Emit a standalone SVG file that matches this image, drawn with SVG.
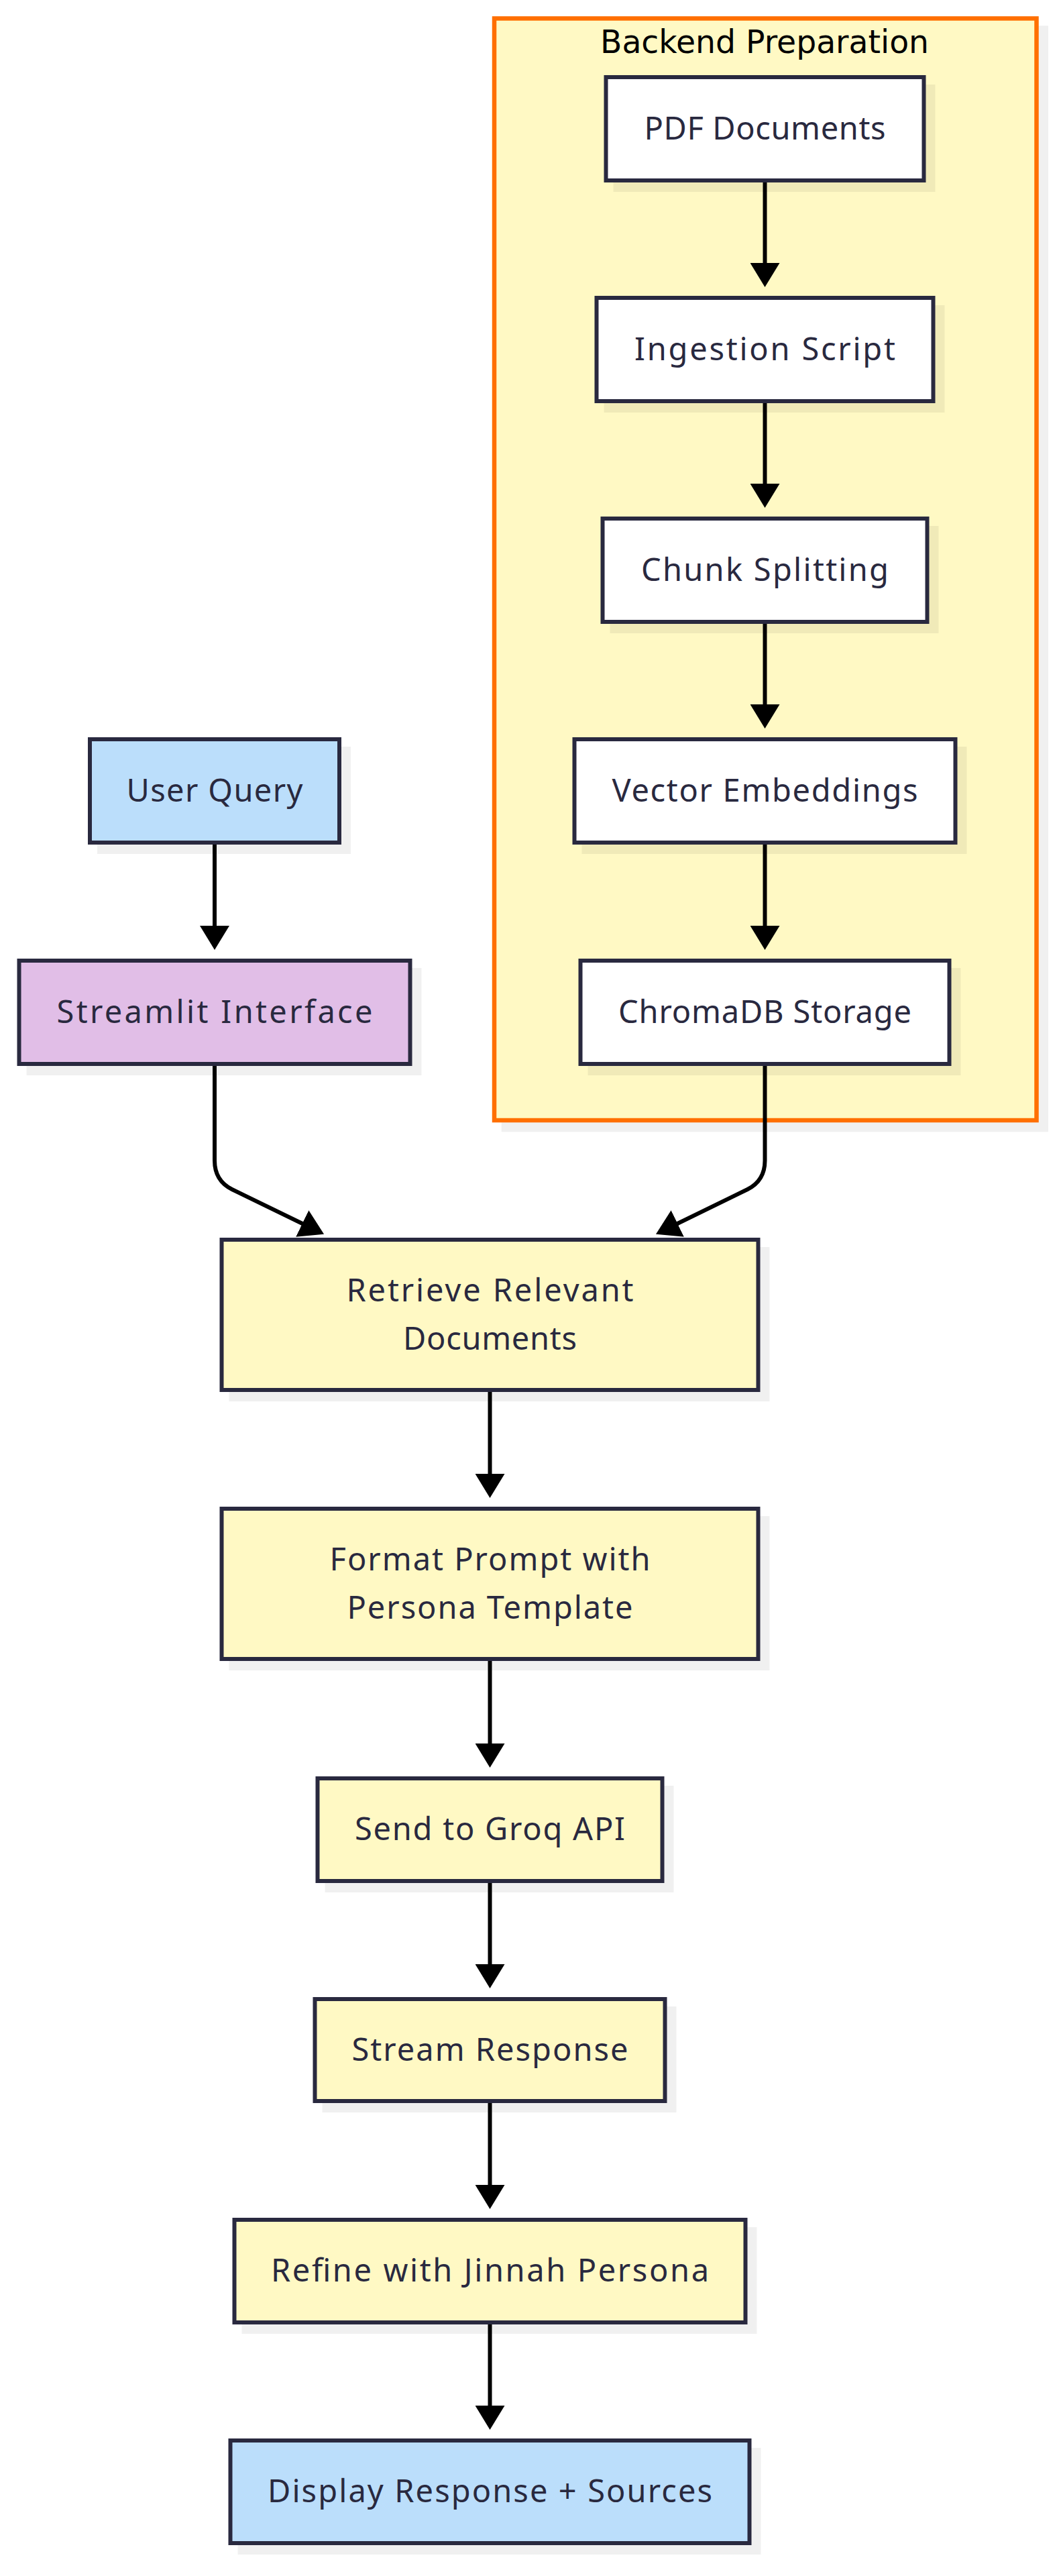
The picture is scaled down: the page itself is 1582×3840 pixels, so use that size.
<svg xmlns="http://www.w3.org/2000/svg" width="1582" height="3840" viewBox="0 0 1582 3840">
<style>
.sh{fill:#000;fill-opacity:0.06}
.box{stroke:#29293f;stroke-width:6}
.white{fill:#ffffff}
.yel{fill:#fff9c4}
.blue{fill:#bbdefb}
.purp{fill:#e1bee7}
.lbl{font-family:"Noto Sans","Open Sans","DejaVu Sans",sans-serif;font-size:47px;fill:#29293f;text-anchor:middle}
.title{font-family:"DejaVu Sans","Noto Sans",sans-serif;font-size:47.5px;fill:#000;text-anchor:middle}
.edge{fill:none;stroke:#000;stroke-width:6}
</style>
<defs>
<marker id="arr" markerUnits="userSpaceOnUse" viewBox="0 0 36 44" markerWidth="36" markerHeight="44" refX="3" refY="22" orient="auto">
<path d="M0,0 L36,22 L0,44 z" fill="#000"/>
</marker>
</defs>
<rect width="1582" height="3840" fill="#ffffff"/>

<g id="cluster-backend">
<rect class="sh" x="747.7" y="38.3" width="815.3" height="1649"/>
<rect x="737" y="27.5" width="808.5" height="1642.5" fill="#fff9c4" stroke="#ff6f00" stroke-width="6.5"/>
<text class="title" x="1140" y="79" textLength="490" lengthAdjust="spacingAndGlyphs">Backend Preparation</text>
</g>

<g id="node-pdf">
<rect class="sh" x="914.5" y="126" width="480" height="160"/>
<rect class="box white" x="903.5" y="115" width="474" height="154"/>
<text class="lbl" x="1140.5" y="207.5" textLength="360" lengthAdjust="spacing">PDF Documents</text>
</g>
<g id="node-ingestion">
<rect class="sh" x="900.5" y="455" width="508" height="160"/>
<rect class="box white" x="889.5" y="444" width="502" height="154"/>
<text class="lbl" x="1140.5" y="536.5" textLength="389" lengthAdjust="spacing">Ingestion Script</text>
</g>
<g id="node-chunk">
<rect class="sh" x="909.5" y="784" width="490" height="160"/>
<rect class="box white" x="898.5" y="773" width="484" height="154"/>
<text class="lbl" x="1140.5" y="865.5" textLength="369" lengthAdjust="spacing">Chunk Splitting</text>
</g>
<g id="node-vector">
<rect class="sh" x="867.5" y="1113" width="574" height="160"/>
<rect class="box white" x="856.5" y="1102" width="568" height="154"/>
<text class="lbl" x="1140.5" y="1194.5" textLength="456" lengthAdjust="spacing">Vector Embeddings</text>
</g>
<g id="node-chroma">
<rect class="sh" x="876.5" y="1443" width="556" height="160"/>
<rect class="box white" x="865.5" y="1432" width="550" height="154"/>
<text class="lbl" x="1140.5" y="1524.5" textLength="437" lengthAdjust="spacing">ChromaDB Storage</text>
</g>

<g id="node-userquery">
<rect class="sh" x="145" y="1113" width="378" height="160"/>
<rect class="box blue" x="134" y="1102" width="372" height="154"/>
<text class="lbl" x="320" y="1194.5" textLength="263" lengthAdjust="spacing">User Query</text>
</g>
<g id="node-streamlit">
<rect class="sh" x="39.5" y="1443" width="589" height="160"/>
<rect class="box purp" x="28.5" y="1432" width="583" height="154"/>
<text class="lbl" x="320" y="1524.5" textLength="471" lengthAdjust="spacing">Streamlit Interface</text>
</g>

<g id="node-retrieve">
<rect class="sh" x="341.5" y="1859" width="806" height="230"/>
<rect class="box yel" x="330.5" y="1848" width="800" height="224"/>
<text class="lbl" x="730.5" y="1939.5" textLength="428" lengthAdjust="spacing">Retrieve Relevant</text>
<text class="lbl" x="730.5" y="2011.5" textLength="259" lengthAdjust="spacing">Documents</text>
</g>
<g id="node-format">
<rect class="sh" x="341.5" y="2260" width="806" height="230"/>
<rect class="box yel" x="330.5" y="2249" width="800" height="224"/>
<text class="lbl" x="730.5" y="2340.5" textLength="478" lengthAdjust="spacing">Format Prompt with</text>
<text class="lbl" x="730.5" y="2412.5" textLength="426" lengthAdjust="spacing">Persona Template</text>
</g>
<g id="node-send">
<rect class="sh" x="484.5" y="2662" width="520" height="159"/>
<rect class="box yel" x="473.5" y="2651" width="514" height="153"/>
<text class="lbl" x="730.5" y="2743" textLength="403" lengthAdjust="spacing">Send to Groq API</text>
</g>
<g id="node-stream">
<rect class="sh" x="480.5" y="2991" width="528" height="158"/>
<rect class="box yel" x="469.5" y="2980" width="522" height="152"/>
<text class="lbl" x="730.5" y="3071.5" textLength="412" lengthAdjust="spacing">Stream Response</text>
</g>
<g id="node-refine">
<rect class="sh" x="360.5" y="3320" width="768" height="159"/>
<rect class="box yel" x="349.5" y="3309" width="762" height="153"/>
<text class="lbl" x="730.5" y="3401" textLength="653" lengthAdjust="spacing">Refine with Jinnah Persona</text>
</g>
<g id="node-display">
<rect class="sh" x="354.5" y="3649" width="780" height="159"/>
<rect class="box blue" x="343.5" y="3638" width="774" height="153"/>
<text class="lbl" x="730.5" y="3730" textLength="663" lengthAdjust="spacing">Display Response + Sources</text>
</g>

<g id="connectors">
<path class="edge" marker-end="url(#arr)" d="M1140.5,272 V395"/>
<path class="edge" marker-end="url(#arr)" d="M1140.5,601 V724"/>
<path class="edge" marker-end="url(#arr)" d="M1140.5,930 V1053"/>
<path class="edge" marker-end="url(#arr)" d="M1140.5,1259 V1383"/>
<path class="edge" marker-end="url(#arr)" d="M320,1259 V1383"/>
<path class="edge" marker-end="url(#arr)" d="M320,1589 L320,1730 Q320,1760 346,1773 L453.4,1825.3"/>
<path class="edge" marker-end="url(#arr)" d="M1140.5,1589 L1140.5,1730 Q1140.5,1760 1114.5,1773 L1007.6,1825.3"/>
<path class="edge" marker-end="url(#arr)" d="M730.5,2075 V2200"/>
<path class="edge" marker-end="url(#arr)" d="M730.5,2476 V2602"/>
<path class="edge" marker-end="url(#arr)" d="M730.5,2807 V2931"/>
<path class="edge" marker-end="url(#arr)" d="M730.5,3135 V3260"/>
<path class="edge" marker-end="url(#arr)" d="M730.5,3465 V3589"/>
</g>
</svg>
